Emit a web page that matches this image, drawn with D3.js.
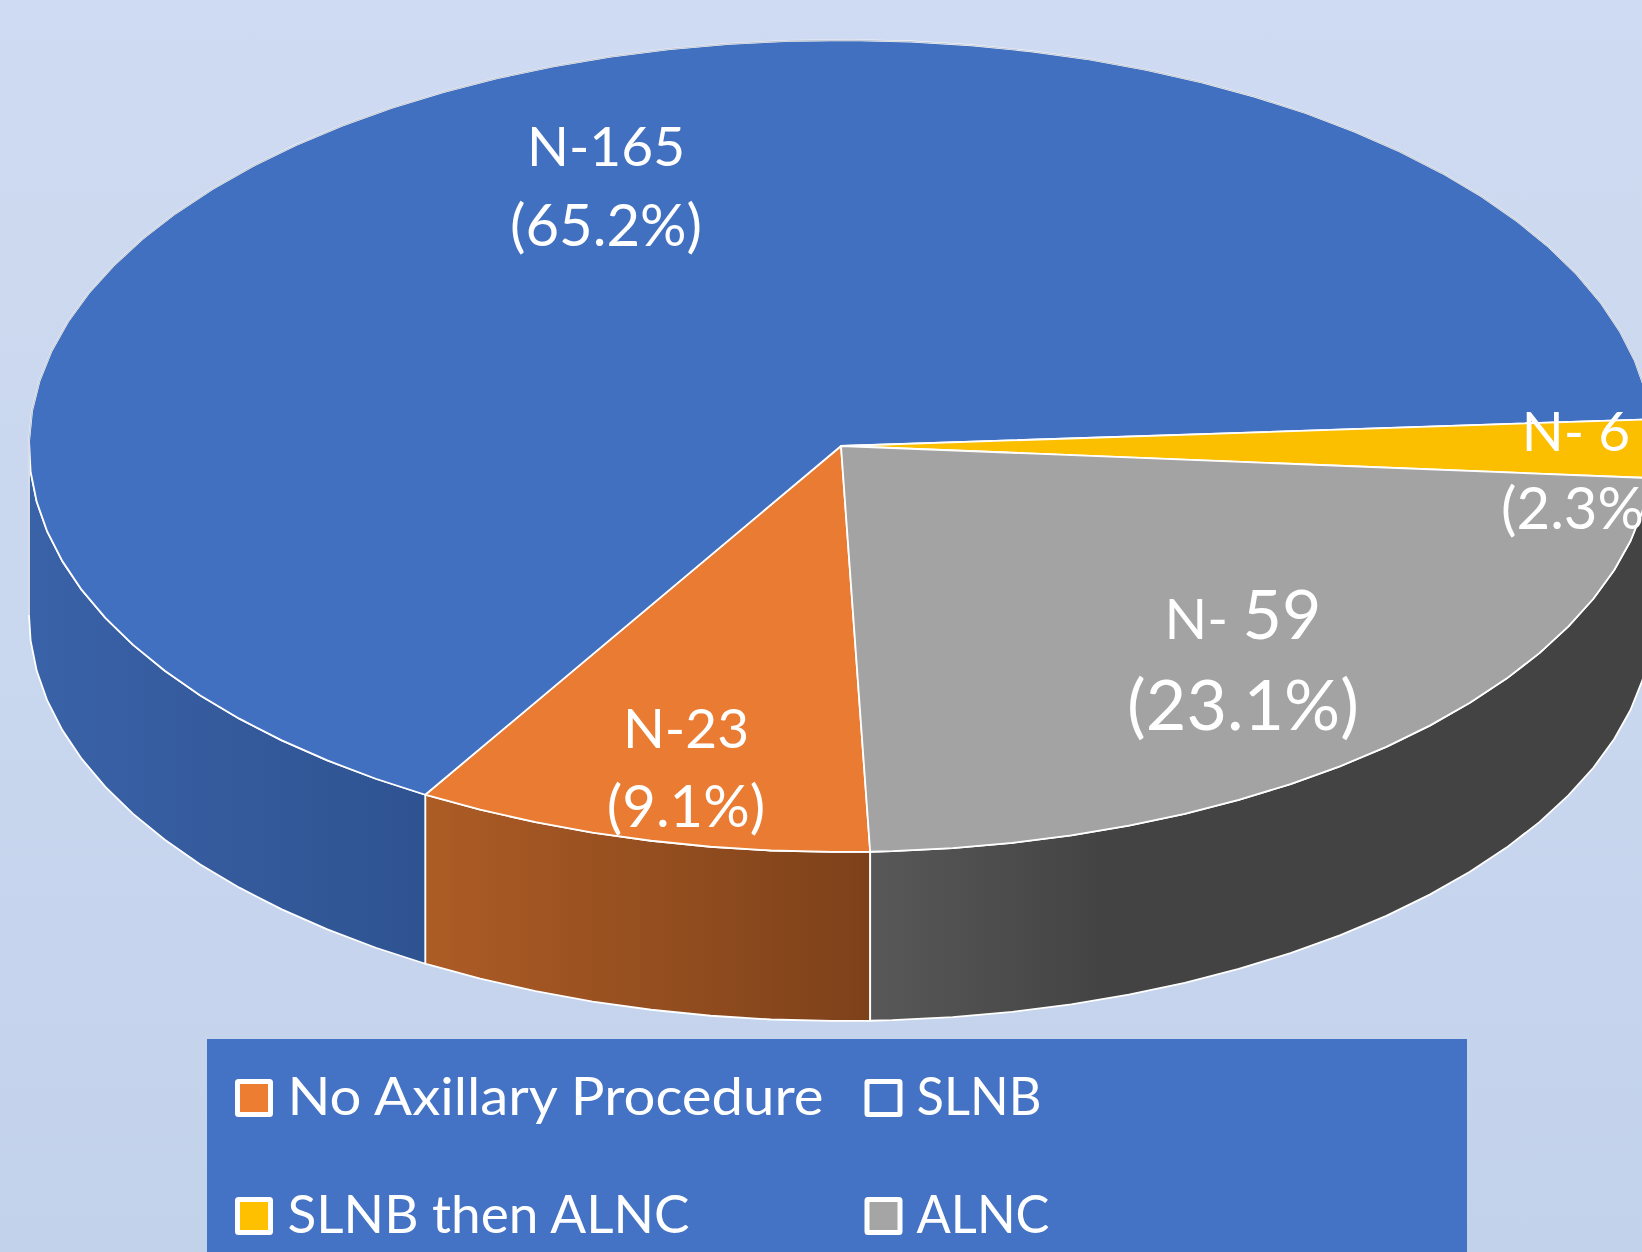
<!DOCTYPE html>
<html>
<head>
<meta charset="utf-8">
<script src="https://cdnjs.cloudflare.com/ajax/libs/d3/7.8.5/d3.min.js"></script>
<style>
    html, body { margin: 0; padding: 0; overflow: hidden; }
    text { font-family: Lato, "Open Sans", sans-serif; fill: #fff; }
</style>
</head>
<body>
<script>
// values, percent labels drive the slice angles
var categories = ["No Axillary Procedure", "SLNB", "SLNB then ALNC", "ALNC"];
var percents = [9.1, 65.2, 2.3, 23.1];
var counts = ["N-23", "N-165", "N- 6", "N- 59"];
var percentLabels = ["(9.1%)", "(65.2%)", "(2.3%)", "(23.1%)"];

var topColors = ["#ea7b32", "#4270c0", "#fcbf00", "#a3a3a3"];
var sideFrom = ["#ad5c25", "#3a62a8", "#a98000", "#585858"];
var sideTo = ["#7d411a", "#2f5391", "#7f6000", "#434343"];
var sideFlat = [1, 1, 1, 0.3]; // where the side gradient stops changing

var width = 1642, height = 1252;
var cx = 841, cy = 446, rx = 812, ry = 406, depth = 169;
var facetStep = 360 / 84, facetPhase = 0.67;
var startDeg = 177.94;

var xScale = d3.scaleLinear().domain([-1, 1]).range([cx - rx, cx + rx]);
var yScale = d3.scaleLinear().domain([-1, 1]).range([cy - ry, cy + ry]);

var svg = d3.select("body").append("svg")
    .attr("width", width)
    .attr("height", height)
    .style("display", "block");
var defs = svg.append("defs");

var bg = defs.append("linearGradient").attr("id", "bg")
    .attr("x1", 0).attr("y1", 0).attr("x2", 0).attr("y2", 1);
bg.append("stop").attr("offset", 0).attr("stop-color", "#cfdbf3");
bg.append("stop").attr("offset", 0.2).attr("stop-color", "#ccd9ef");
bg.append("stop").attr("offset", 0.5).attr("stop-color", "#c9d7ef");
bg.append("stop").attr("offset", 1).attr("stop-color", "#c3d2eb");

svg.append("rect")
    .attr("width", width)
    .attr("height", height)
    .attr("fill", "url(#bg)");

var pie = d3.pie()
    .sort(null)
    .startAngle(startDeg * Math.PI / 180)
    .endAngle(startDeg * Math.PI / 180 + 2 * Math.PI);
var slices = pie(percents);

// d3 pie angle is from 12 o'clock, screen angle t is from 3 o'clock, both clockwise
function toT(a) {
    return a * 180 / Math.PI - 90;
}

// the reference outline is faceted, so walk the rim in straight pieces
function rim(t0, t1) {
    var pts = [t0];
    var k = Math.ceil((t0 - facetPhase) / facetStep + 1e-6);
    while (k * facetStep + facetPhase < t1) {
        pts.push(k * facetStep + facetPhase);
        k++;
    }
    pts.push(t1);
    return pts.map(function (t) {
        var r = t * Math.PI / 180;
        return [xScale(Math.cos(r)), yScale(Math.sin(r))];
    });
}

var line = d3.line();

// front wall, only the part of each slice between 3 and 9 o'clock shows
var sides = svg.append("g");
slices.forEach(function (s, i) {
    var t0 = toT(s.startAngle), t1 = toT(s.endAngle);
    var a = Math.max(t0, 0), b = Math.min(t1, 180);
    if (b <= a) {
        // slice may sit one full turn further round
        a = Math.max(t0 - 360, 0);
        b = Math.min(t1 - 360, 180);
        if (b <= a) return;
    }
    var edge = rim(a, b);
    var lower = edge.slice().reverse().map(function (p) {
        return [p[0], p[1] + depth];
    });
    var xs = edge.map(function (p) { return p[0]; });
    // gradient runs left to right across the visible wall
    var grad = defs.append("linearGradient").attr("id", "side" + i)
        .attr("gradientUnits", "userSpaceOnUse")
        .attr("x1", d3.min(xs)).attr("x2", d3.max(xs))
        .attr("y1", 0).attr("y2", 0);
    grad.append("stop").attr("offset", 0).attr("stop-color", sideFrom[i]);
    grad.append("stop").attr("offset", sideFlat[i]).attr("stop-color", sideTo[i]);

    sides.append("path")
        .attr("d", line(edge.concat(lower)) + "Z")
        .attr("fill", "url(#side" + i + ")")
        .attr("stroke", "#fff")
        .attr("stroke-width", 1.8)
        .attr("stroke-linejoin", "round");
});

// top face
svg.append("g").selectAll("path")
    .data(slices)
    .enter().append("path")
    .attr("d", function (s) {
        return line([[cx, cy]].concat(rim(toT(s.startAngle), toT(s.endAngle)))) + "Z";
    })
    .attr("fill", function (d, i) { return topColors[i]; })
    .attr("stroke", "#fff")
    .attr("stroke-width", 1.8)
    .attr("stroke-linejoin", "round");

// back rim and left wall edge read as thin grey against the background
var backRim = rim(180, 356);
svg.append("path")
    .attr("d", line([[backRim[0][0], backRim[0][1] + depth]].concat(backRim)))
    .attr("fill", "none")
    .attr("stroke", "#c2cad8")
    .attr("stroke-width", 1.2);

// data labels were placed by hand in the original, so they are placed here too
var labelLayout = [
    {x: 686, y1: 748, y2: 827, size1: 55, size2: 58},
    {x: 606, y1: 166, y2: 246, size1: 55, size2: 58},
    {x: 1576, y1: 451, y2: 529, size1: 55, size2: 58, left2: 1501},
    {x: 1243, y1: 639, y2: 730, size1: 68, size2: 70}
];

var labels = svg.append("g");
counts.forEach(function (c, i) {
    var p = labelLayout[i];
    var first = labels.append("text")
        .attr("x", p.x)
        .attr("y", p.y1)
        .attr("text-anchor", "middle")
        .attr("font-size", p.size1);
    // "N- 59" has a smaller "N-" than its digits
    if (i === 3) {
        first.append("tspan").attr("font-size", 56).text("N- ");
        first.append("tspan").text("59");
    } else {
        first.text(c);
    }
    labels.append("text")
        .attr("x", p.left2 ? p.left2 : p.x)
        .attr("y", p.y2)
        .attr("text-anchor", p.left2 ? "start" : "middle")
        .attr("font-size", p.size2)
        .text(percentLabels[i]);
});

// legend
var legend = svg.append("g");
legend.append("rect")
    .attr("x", 207)
    .attr("y", 1039)
    .attr("width", 1260)
    .attr("height", 213)
    .attr("fill", "#4472c4");

var legendColors = ["#ed7d31", "#4472c4", "#ffc000", "#a5a5a5"];
var colX = [237.5, 867];
var textX = [287.5, 916.5];
var rowY = [1081.5, 1199.5];
// Calibri runs wider than Lato in the lowercase, so fit each entry to its measured width
var textWidths = [536, 125, 402, 133];

categories.forEach(function (name, i) {
    var col = i % 2, row = Math.floor(i / 2);
    legend.append("rect")
        .attr("x", colX[col])
        .attr("y", rowY[row])
        .attr("width", 33)
        .attr("height", 33)
        .attr("rx", 1)
        .attr("fill", legendColors[i])
        .attr("stroke", "#fff")
        .attr("stroke-width", 5);
    legend.append("text")
        .attr("x", textX[col])
        .attr("y", rowY[row] + 33.5)
        .attr("font-size", 52)
        .attr("textLength", textWidths[i])
        .attr("lengthAdjust", "spacingAndGlyphs")
        .text(name);
});
</script>
</body>
</html>
